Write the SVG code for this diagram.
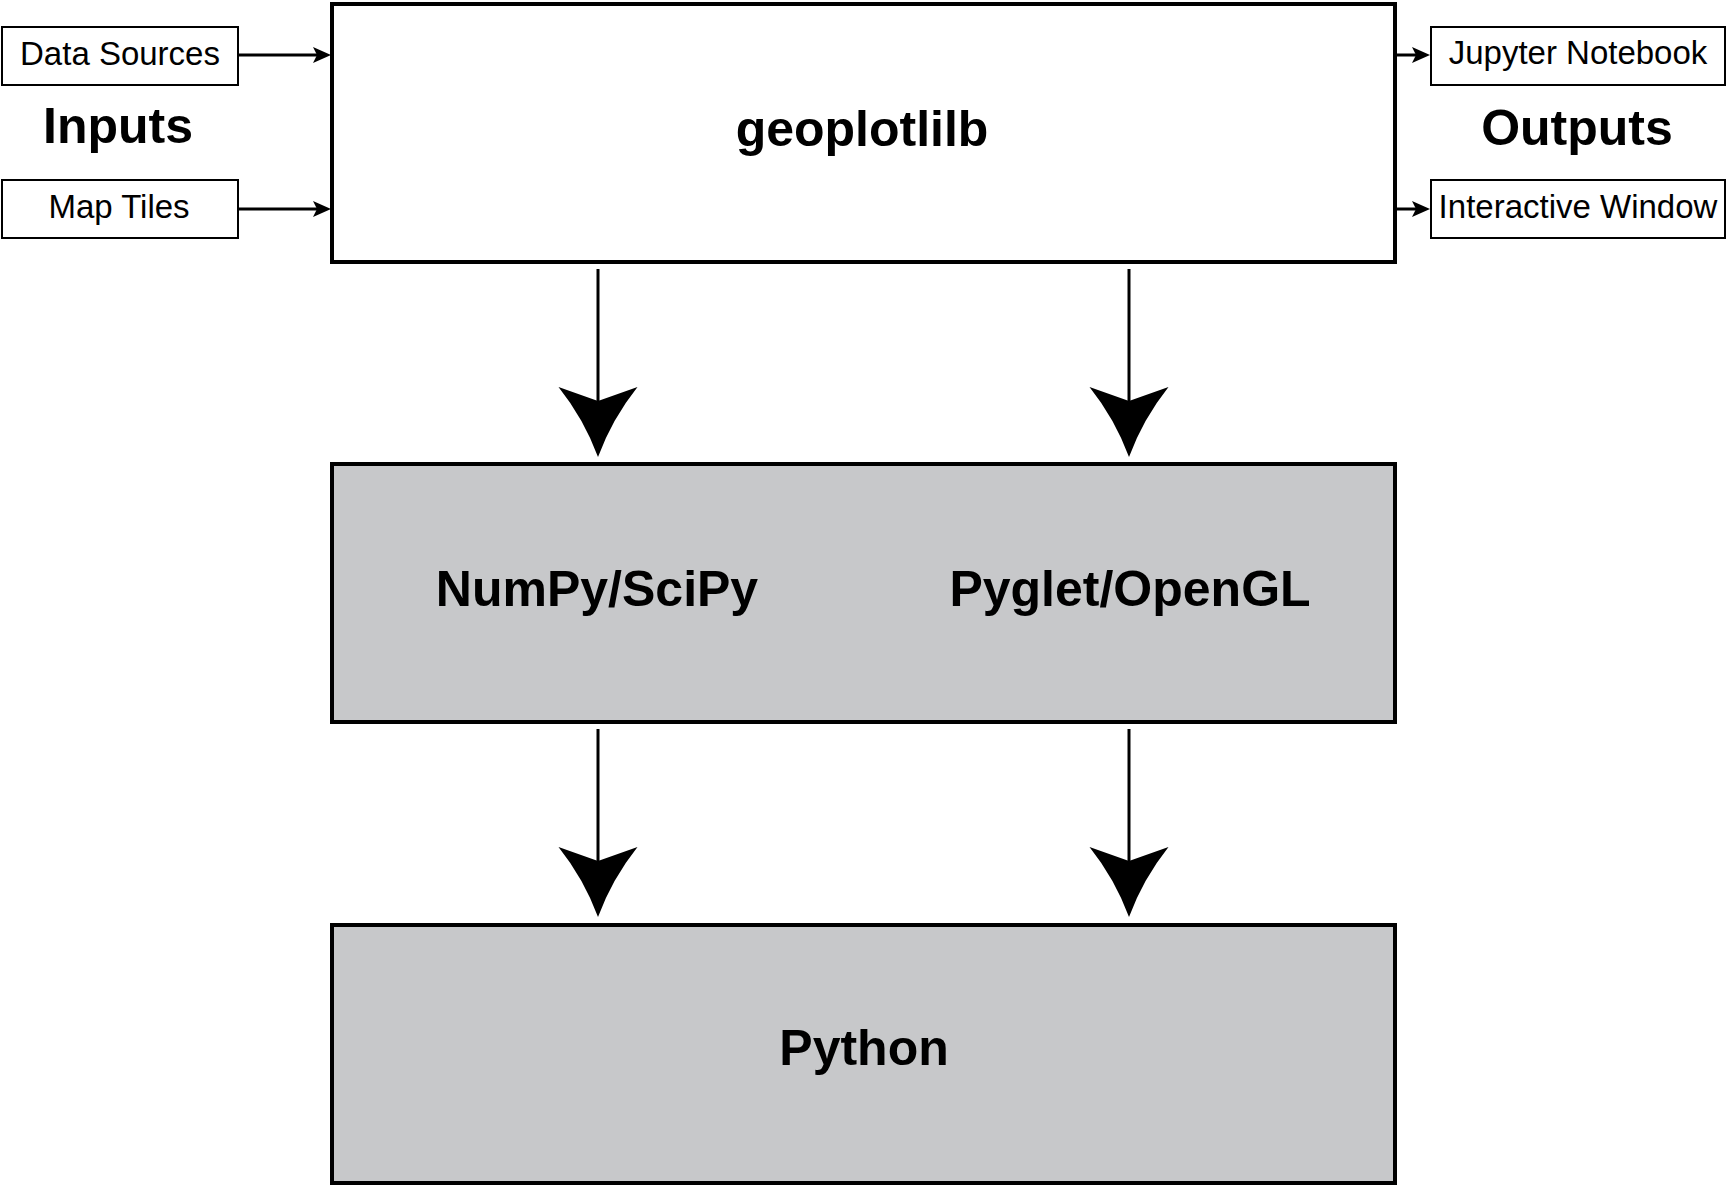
<svg xmlns="http://www.w3.org/2000/svg" width="1728" height="1187" viewBox="0 0 1728 1187">
<defs>
<style>
.big{fill:#ffffff;stroke:#000000;stroke-width:4}
.gray{fill:#c7c8ca;stroke:#000000;stroke-width:4}
.small{fill:#ffffff;stroke:#000000;stroke-width:2}
.lbl{font-family:"Liberation Sans",Arial,sans-serif;font-size:33px;fill:#000000;text-anchor:middle}
.hdr{font-family:"Liberation Sans",Arial,sans-serif;font-size:50px;font-weight:bold;fill:#000000;text-anchor:middle}
.ttl{font-family:"Liberation Sans",Arial,sans-serif;font-size:50px;font-weight:bold;fill:#000000;text-anchor:middle}
.conn{stroke:#000000;stroke-width:3;fill:none}
</style>
<marker id="bigHead" markerUnits="userSpaceOnUse" orient="auto" refX="0" refY="0" markerWidth="80" markerHeight="90" overflow="visible">
<path d="M56,0 Q18,-14 -14,-39.5 L0,0 L-14,39.5 Q18,14 56,0 Z" fill="#000000"/>
</marker>
<marker id="smallHead" markerUnits="userSpaceOnUse" orient="auto" refX="0" refY="0" markerWidth="20" markerHeight="20" overflow="visible">
<path d="M14,0 L-4,-8 L0,0 L-4,8 Z" fill="#000000"/>
</marker>
</defs>
<rect width="1728" height="1187" fill="#ffffff"/>
<g id="connectors">
<line class="conn" x1="238" y1="55" x2="317" y2="55" marker-end="url(#smallHead)"/>
<line class="conn" x1="238" y1="209" x2="317" y2="209" marker-end="url(#smallHead)"/>
<line class="conn" x1="1397" y1="55" x2="1416" y2="55" marker-end="url(#smallHead)"/>
<line class="conn" x1="1397" y1="209" x2="1416" y2="209" marker-end="url(#smallHead)"/>
<line class="conn" x1="598" y1="269" x2="598" y2="401" marker-end="url(#bigHead)"/>
<line class="conn" x1="1129" y1="269" x2="1129" y2="401" marker-end="url(#bigHead)"/>
<line class="conn" x1="598" y1="729" x2="598" y2="861" marker-end="url(#bigHead)"/>
<line class="conn" x1="1129" y1="729" x2="1129" y2="861" marker-end="url(#bigHead)"/>
</g>
<g id="geoplotlib">
<rect class="big" x="332" y="4" width="1063" height="258"/>
<text class="ttl" x="862" y="146">geoplotlilb</text>
</g>
<g id="libs">
<rect class="gray" x="332" y="464" width="1063" height="258"/>
<text class="ttl" x="597" y="606">NumPy/SciPy</text>
<text class="ttl" x="1130" y="606">Pyglet/OpenGL</text>
</g>
<g id="python">
<rect class="gray" x="332" y="925" width="1063" height="258"/>
<text class="ttl" x="864" y="1065">Python</text>
</g>
<g id="data-sources">
<rect class="small" x="2" y="27" width="236" height="58"/>
<text class="lbl" x="120" y="65">Data Sources</text>
</g>
<g id="map-tiles">
<rect class="small" x="2" y="180" width="236" height="58"/>
<text class="lbl" x="119" y="218">Map Tiles</text>
</g>
<g id="inputs">
<text class="hdr" x="118" y="143">Inputs</text>
</g>
<g id="jupyter">
<rect class="small" x="1431" y="27" width="294" height="58"/>
<text class="lbl" x="1578" y="64">Jupyter Notebook</text>
</g>
<g id="interactive">
<rect class="small" x="1431" y="180" width="294" height="58"/>
<text class="lbl" x="1578" y="218">Interactive Window</text>
</g>
<g id="outputs">
<text class="hdr" x="1577" y="145">Outputs</text>
</g>
</svg>
